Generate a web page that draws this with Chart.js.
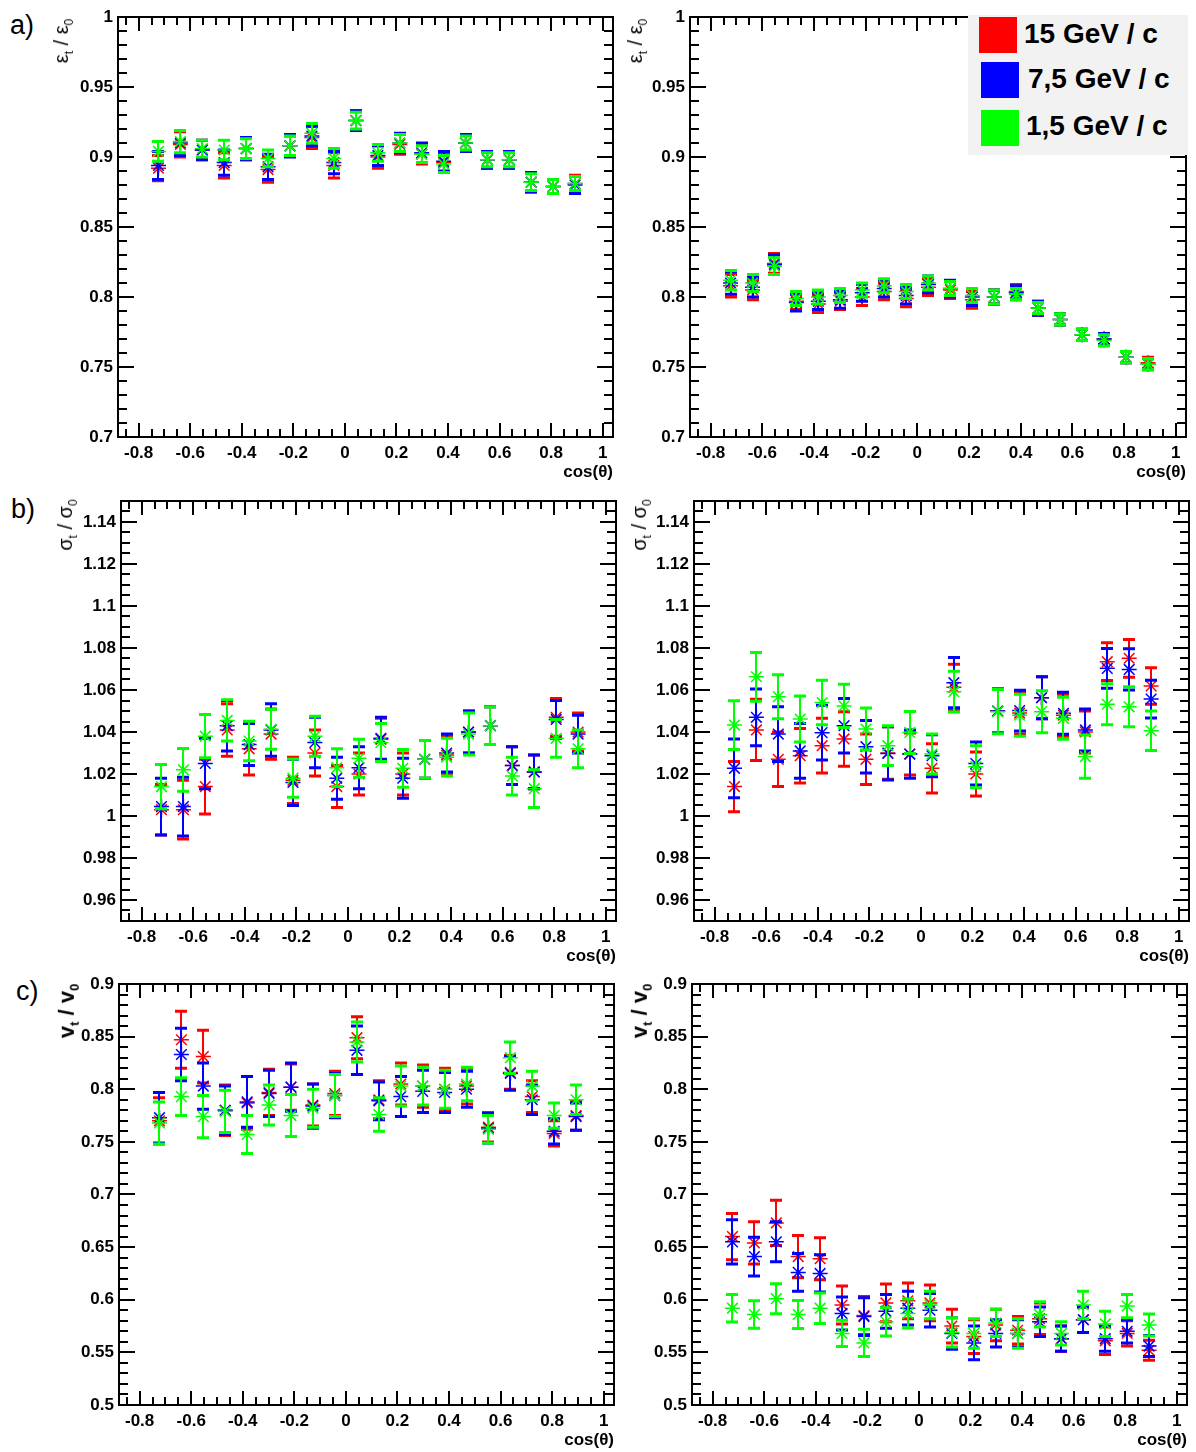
<!DOCTYPE html>
<html>
<head>
<meta charset="utf-8">
<script src="https://cdn.jsdelivr.net/npm/chart.js@4/dist/chart.umd.min.js"></script>
<style>
  body { margin: 0; background: #fff; width: 1196px; height: 1452px; position: relative; overflow: hidden;
         font-family: "Liberation Sans", Arial, sans-serif; }
  canvas { position: absolute; }
  .row { position: absolute; font-size: 27px; color: #000; }
  .ytitle { position: absolute; font-size: 20px; color: #000; white-space: nowrap;
            transform: translate(-50%, -50%) rotate(-90deg); }
  .ytitle sub { font-size: 12px; }
  .ytitle.bold { font-weight: bold; font-size: 22px; }
  .ytitle.bold sub { font-size: 13px; }
  .legend { position: absolute; left: 968px; top: 15px; width: 220px; height: 140px; background: #f2f2f2; z-index: 5; }
  .legend div { position: absolute; font-weight: bold; font-size: 28px; color: #000; white-space: nowrap; }
  .legend span { position: absolute; width: 38px; height: 36px; }
</style>
</head>
<body>

<script>
// cos(theta) bin centres shared by every panel
const cosTheta = [-0.723, -0.638, -0.553, -0.468, -0.383, -0.298, -0.213, -0.128, -0.043, 0.043,
                  0.128, 0.213, 0.298, 0.383, 0.468, 0.553, 0.638, 0.723, 0.808, 0.893];

const xTicks = [-0.8, -0.6, -0.4, -0.2, 0, 0.2, 0.4, 0.6, 0.8, 1];
const xTickLabels = ['-0.8', '-0.6', '-0.4', '-0.2', '0', '0.2', '0.4', '0.6', '0.8', '1'];

const effTicks = [0.7, 0.75, 0.8, 0.85, 0.9, 0.95, 1];
const effTickLabels = ['0.7', '0.75', '0.8', '0.85', '0.9', '0.95', '1'];
const resTicks = [0.96, 0.98, 1, 1.02, 1.04, 1.06, 1.08, 1.1, 1.12, 1.14];
const resTickLabels = ['0.96', '0.98', '1', '1.02', '1.04', '1.06', '1.08', '1.1', '1.12', '1.14'];
const velTicks = [0.5, 0.55, 0.6, 0.65, 0.7, 0.75, 0.8, 0.85, 0.9];
const velTickLabels = ['0.5', '0.55', '0.6', '0.65', '0.7', '0.75', '0.8', '0.85', '0.9'];

// a) eps_t / eps_0, left
const effLeftHi = [0.892, 0.909, 0.905, 0.894, 0.906, 0.891, 0.908, 0.914, 0.894, 0.926, 0.900, 0.909, 0.902, 0.896, 0.910, 0.898, 0.898, 0.882, 0.879, 0.881];
const effLeftHiErr = [0.009, 0.009, 0.007, 0.009, 0.008, 0.009, 0.007, 0.008, 0.009, 0.007, 0.008, 0.007, 0.007, 0.007, 0.006, 0.006, 0.006, 0.007, 0.005, 0.006];
const effLeftMid = [0.894, 0.910, 0.905, 0.896, 0.906, 0.893, 0.908, 0.915, 0.896, 0.926, 0.901, 0.910, 0.903, 0.897, 0.910, 0.898, 0.898, 0.882, 0.879, 0.880];
const effLeftMidErr = [0.010, 0.009, 0.007, 0.009, 0.008, 0.009, 0.008, 0.007, 0.008, 0.007, 0.007, 0.007, 0.007, 0.007, 0.006, 0.006, 0.006, 0.007, 0.005, 0.006];
const effLeftLo = [0.904, 0.911, 0.906, 0.905, 0.906, 0.899, 0.908, 0.917, 0.899, 0.926, 0.903, 0.910, 0.902, 0.895, 0.910, 0.898, 0.898, 0.882, 0.879, 0.881];
const effLeftLoErr = [0.007, 0.008, 0.006, 0.007, 0.007, 0.006, 0.007, 0.007, 0.007, 0.006, 0.006, 0.006, 0.006, 0.006, 0.005, 0.005, 0.005, 0.006, 0.005, 0.005];

// a) eps_t / eps_0, right
const effRightHi = [0.808, 0.805, 0.824, 0.797, 0.795, 0.797, 0.800, 0.804, 0.799, 0.807, 0.805, 0.798, 0.800, 0.804, 0.792, 0.784, 0.773, 0.770, 0.757, 0.753];
const effRightHiErr = [0.008, 0.007, 0.007, 0.006, 0.006, 0.006, 0.006, 0.006, 0.006, 0.006, 0.006, 0.006, 0.005, 0.005, 0.005, 0.004, 0.004, 0.004, 0.004, 0.004];
const effRightMid = [0.810, 0.807, 0.823, 0.796, 0.797, 0.798, 0.803, 0.806, 0.801, 0.809, 0.806, 0.800, 0.800, 0.803, 0.792, 0.784, 0.773, 0.770, 0.757, 0.752];
const effRightMidErr = [0.008, 0.007, 0.007, 0.006, 0.006, 0.006, 0.006, 0.006, 0.006, 0.006, 0.006, 0.006, 0.005, 0.005, 0.005, 0.004, 0.004, 0.004, 0.004, 0.004];
const effRightLo = [0.812, 0.810, 0.822, 0.799, 0.800, 0.801, 0.805, 0.808, 0.804, 0.810, 0.806, 0.801, 0.800, 0.802, 0.792, 0.784, 0.773, 0.769, 0.757, 0.752];
const effRightLoErr = [0.007, 0.006, 0.006, 0.005, 0.005, 0.005, 0.005, 0.005, 0.005, 0.005, 0.005, 0.005, 0.005, 0.004, 0.004, 0.004, 0.004, 0.004, 0.004, 0.004];

// b) sigma_t / sigma_0, left
const resLeftHi = [1.003, 1.003, 1.014, 1.041, 1.032, 1.039, 1.017, 1.030, 1.014, 1.020, 1.0365, 1.020, 1.027, 1.029, 1.040, 1.043, 1.024, 1.021, 1.047, 1.040];
const resLeftHiErr = [0.012, 0.014, 0.013, 0.0125, 0.0125, 0.012, 0.011, 0.011, 0.010, 0.010, 0.010, 0.010, 0.009, 0.009, 0.010, 0.009, 0.009, 0.008, 0.009, 0.009];
const resLeftMid = [1.0045, 1.0045, 1.025, 1.043, 1.034, 1.041, 1.016, 1.035, 1.018, 1.023, 1.037, 1.018, 1.027, 1.030, 1.040, 1.043, 1.024, 1.021, 1.046, 1.039];
const resLeftMidErr = [0.0135, 0.014, 0.012, 0.012, 0.010, 0.0125, 0.011, 0.012, 0.010, 0.010, 0.010, 0.0095, 0.009, 0.009, 0.010, 0.009, 0.009, 0.008, 0.009, 0.009];
const resLeftLo = [1.014, 1.022, 1.038, 1.0455, 1.0357, 1.0413, 1.018, 1.038, 1.023, 1.0275, 1.035, 1.0227, 1.027, 1.028, 1.039, 1.043, 1.019, 1.013, 1.037, 1.032];
const resLeftLoErr = [0.0105, 0.0102, 0.0103, 0.0098, 0.0094, 0.0095, 0.0091, 0.0095, 0.009, 0.009, 0.009, 0.009, 0.009, 0.009, 0.010, 0.009, 0.009, 0.009, 0.009, 0.009];

// b) sigma_t / sigma_0, right
const resRightHi = [1.014, 1.041, 1.027, 1.0287, 1.0335, 1.0367, 1.027, 1.030, 1.0295, 1.0227, 1.0613, 1.020, 1.050, 1.049, 1.0563, 1.048, 1.040, 1.0735, 1.0751, 1.0619];
const resRightHiErr = [0.012, 0.0146, 0.013, 0.013, 0.013, 0.013, 0.012, 0.0125, 0.010, 0.0117, 0.011, 0.0105, 0.0105, 0.010, 0.010, 0.010, 0.010, 0.009, 0.009, 0.0087];
const resRightMid = [1.0227, 1.047, 1.039, 1.031, 1.0397, 1.043, 1.033, 1.0298, 1.0295, 1.0287, 1.0635, 1.025, 1.050, 1.0502, 1.0563, 1.0489, 1.041, 1.0703, 1.0698, 1.0557];
const resRightMidErr = [0.014, 0.0135, 0.013, 0.013, 0.013, 0.013, 0.0125, 0.0127, 0.0115, 0.010, 0.012, 0.0102, 0.0105, 0.0097, 0.010, 0.010, 0.010, 0.0095, 0.0098, 0.009];
const resRightLo = [1.0433, 1.0663, 1.0568, 1.0462, 1.054, 1.0524, 1.0414, 1.0335, 1.0398, 1.0295, 1.0592, 1.0235, 1.0497, 1.048, 1.0497, 1.0465, 1.0283, 1.0532, 1.052, 1.0406];
const resRightLoErr = [0.0116, 0.0116, 0.0105, 0.011, 0.0106, 0.0103, 0.010, 0.0095, 0.010, 0.0095, 0.0097, 0.010, 0.0105, 0.010, 0.010, 0.010, 0.0103, 0.0098, 0.0095, 0.0094];

// c) v_t / v_0, left
const velLeftHi = [0.770, 0.847, 0.831, 0.780, 0.787, 0.797, 0.802, 0.785, 0.796, 0.849, 0.790, 0.805, 0.803, 0.800, 0.803, 0.764, 0.816, 0.793, 0.758, 0.775];
const velLeftHiErr = [0.022, 0.027, 0.025, 0.024, 0.025, 0.022, 0.022, 0.020, 0.021, 0.020, 0.018, 0.020, 0.020, 0.020, 0.017, 0.014, 0.016, 0.015, 0.012, 0.014];
const velLeftMid = [0.773, 0.833, 0.803, 0.780, 0.788, 0.796, 0.802, 0.784, 0.794, 0.837, 0.789, 0.793, 0.798, 0.797, 0.800, 0.763, 0.815, 0.790, 0.760, 0.774];
const velLeftMidErr = [0.024, 0.025, 0.022, 0.023, 0.024, 0.022, 0.023, 0.021, 0.021, 0.023, 0.018, 0.019, 0.020, 0.019, 0.017, 0.014, 0.016, 0.014, 0.012, 0.013];
const velLeftLo = [0.768, 0.793, 0.774, 0.779, 0.757, 0.785, 0.775, 0.782, 0.794, 0.845, 0.776, 0.803, 0.803, 0.800, 0.805, 0.762, 0.830, 0.803, 0.775, 0.790];
const velLeftLoErr = [0.020, 0.018, 0.020, 0.020, 0.018, 0.019, 0.020, 0.018, 0.020, 0.019, 0.016, 0.019, 0.018, 0.018, 0.016, 0.013, 0.015, 0.014, 0.012, 0.014];

// c) v_t / v_0, right
const velRightHi = [0.660, 0.654, 0.673, 0.641, 0.639, 0.595, 0.585, 0.597, 0.599, 0.597, 0.575, 0.565, 0.576, 0.571, 0.582, 0.563, 0.581, 0.561, 0.568, 0.552];
const velRightHiErr = [0.022, 0.020, 0.0215, 0.020, 0.020, 0.018, 0.018, 0.018, 0.017, 0.017, 0.016, 0.016, 0.015, 0.013, 0.015, 0.012, 0.012, 0.013, 0.012, 0.0095];
const velRightMid = [0.655, 0.641, 0.655, 0.626, 0.625, 0.587, 0.584, 0.589, 0.592, 0.590, 0.568, 0.559, 0.568, 0.568, 0.579, 0.563, 0.581, 0.563, 0.570, 0.556];
const velRightMidErr = [0.021, 0.0185, 0.019, 0.018, 0.0177, 0.0157, 0.018, 0.016, 0.016, 0.016, 0.015, 0.016, 0.013, 0.013, 0.014, 0.012, 0.012, 0.012, 0.011, 0.010];
const velRightLo = [0.592, 0.586, 0.601, 0.586, 0.592, 0.568, 0.559, 0.579, 0.587, 0.595, 0.569, 0.568, 0.578, 0.568, 0.586, 0.568, 0.595, 0.577, 0.594, 0.576];
const velRightLoErr = [0.0131, 0.013, 0.0142, 0.0134, 0.0145, 0.0125, 0.013, 0.0135, 0.0138, 0.013, 0.014, 0.014, 0.013, 0.014, 0.012, 0.011, 0.013, 0.012, 0.011, 0.0105];

const seriesNames = ['15 GeV / c', '7,5 GeV / c', '1,5 GeV / c'];
const seriesColors = ['#ff0000', '#0000ff', '#00ff00'];

// plot frames on the page
const PAD_T = 17, PAD_R = 20, Y_AXIS_W = 70, X_AXIS_H = 46;
const panels = [
  { left: 118, top: 17,  w: 495, h: 420, y: [0.7, 1.0],   minor: 0.01,  per: 5, ticks: effTicks, labels: effTickLabels,
    series: [[effLeftHi, effLeftHiErr], [effLeftMid, effLeftMidErr], [effLeftLo, effLeftLoErr]] },
  { left: 690, top: 17,  w: 496, h: 420, y: [0.7, 1.0],   minor: 0.01,  per: 5, ticks: effTicks, labels: effTickLabels,
    series: [[effRightHi, effRightHiErr], [effRightMid, effRightMidErr], [effRightLo, effRightLoErr]] },
  { left: 121, top: 501, w: 495, h: 420, y: [0.95, 1.15], minor: 0.005, per: 4, ticks: resTicks, labels: resTickLabels,
    series: [[resLeftHi, resLeftHiErr], [resLeftMid, resLeftMidErr], [resLeftLo, resLeftLoErr]] },
  { left: 694, top: 501, w: 495, h: 420, y: [0.95, 1.15], minor: 0.005, per: 4, ticks: resTicks, labels: resTickLabels,
    series: [[resRightHi, resRightHiErr], [resRightMid, resRightMidErr], [resRightLo, resRightLoErr]] },
  { left: 119, top: 984, w: 495, h: 421, y: [0.5, 0.9],   minor: 0.01,  per: 5, ticks: velTicks, labels: velTickLabels,
    series: [[velLeftHi, velLeftHiErr], [velLeftMid, velLeftMidErr], [velLeftLo, velLeftLoErr]] },
  { left: 692, top: 984, w: 495, h: 421, y: [0.5, 0.9],   minor: 0.01,  per: 5, ticks: velTicks, labels: velTickLabels,
    series: [[velRightHi, velRightHiErr], [velRightMid, velRightMidErr], [velRightLo, velRightLoErr]] }
];

// vertical error bars with caps, drawn just before each series' markers
const errorBars = {
  id: 'errorBars',
  beforeDatasetDraw(chart, args) {
    const ds = chart.data.datasets[args.index];
    const { x, y } = chart.scales;
    const ctx = chart.ctx;
    ctx.save();
    ctx.strokeStyle = ds.borderColor;
    ds.data.forEach(p => {
      const px = Math.round(x.getPixelForValue(p.x));
      const top = y.getPixelForValue(p.y + p.err);
      const bot = y.getPixelForValue(p.y - p.err);
      ctx.lineWidth = 2;
      ctx.beginPath();
      ctx.moveTo(px, top); ctx.lineTo(px, bot);
      ctx.stroke();
      ctx.lineWidth = 3;
      ctx.beginPath();
      ctx.moveTo(px - 6, top); ctx.lineTo(px + 6, top);
      ctx.moveTo(px - 6, bot); ctx.lineTo(px + 6, bot);
      ctx.stroke();
    });
    ctx.restore();
  }
};

// box around the plot with inward ticks on all four sides
const frameTicks = {
  id: 'frameTicks',
  afterDraw(chart, args, opts) {
    const { ctx, chartArea: a } = chart;
    const { x, y } = chart.scales;
    ctx.save();
    ctx.strokeStyle = '#000';
    ctx.lineWidth = 2;
    ctx.strokeRect(a.left, a.top, a.right - a.left, a.bottom - a.top);
    ctx.beginPath();
    for (let k = -17; k <= 20; k++) {
      const px = Math.round(x.getPixelForValue(k * 0.05));
      const len = k % 4 === 0 ? 14 : 8;
      ctx.moveTo(px, a.bottom); ctx.lineTo(px, a.bottom - len);
      ctx.moveTo(px, a.top); ctx.lineTo(px, a.top + len);
    }
    const k0 = Math.ceil(opts.min / opts.minor - 1e-6), k1 = Math.floor(opts.max / opts.minor + 1e-6);
    for (let k = k0; k <= k1; k++) {
      const py = Math.round(y.getPixelForValue(k * opts.minor));
      const len = k % opts.per === 0 ? 16 : 9;
      ctx.moveTo(a.left, py); ctx.lineTo(a.left + len, py);
      ctx.moveTo(a.right, py); ctx.lineTo(a.right - len, py);
    }
    ctx.stroke();
    ctx.restore();
  }
};

const tickFont = { family: '"Liberation Sans", Arial, sans-serif', size: 17, weight: 'bold' };

panels.forEach(p => {
  const cv = document.createElement('canvas');
  const cw = p.w + Y_AXIS_W + PAD_R, ch = p.h + PAD_T + X_AXIS_H;
  cv.width = cw; cv.height = ch;
  cv.style.left = (p.left - Y_AXIS_W) + 'px';
  cv.style.top = (p.top - PAD_T) + 'px';
  document.body.appendChild(cv);

  const datasets = p.series.map((s, i) => ({
    label: seriesNames[i],
    data: cosTheta.map((c, j) => ({ x: c, y: s[0][j], err: s[1][j] })),
    borderColor: seriesColors[i],
    backgroundColor: seriesColors[i],
    pointStyle: 'star',
    pointRadius: 7.5,
    pointBorderWidth: 1.5,
    showLine: false,
    order: 3 - i
  }));

  new Chart(cv, {
    type: 'scatter',
    data: { datasets },
    options: {
      responsive: false,
      animation: false,
      devicePixelRatio: 1,
      layout: { padding: { left: 0, top: PAD_T, right: PAD_R, bottom: 0 } },
      plugins: {
        legend: { display: false },
        tooltip: { enabled: false },
        frameTicks: { min: p.y[0], max: p.y[1], minor: p.minor, per: p.per }
      },
      scales: {
        x: {
          type: 'linear', min: -0.88, max: 1.04,
          grid: { display: false, drawTicks: false },
          border: { display: false },
          afterBuildTicks: s => { s.ticks = xTicks.map(v => ({ value: v })); },
          afterFit: s => { s.height = X_AXIS_H; },
          ticks: { font: tickFont, color: '#000', padding: 6, maxRotation: 0, autoSkip: false,
                   callback: (v, i) => xTickLabels[i] },
          title: { display: true, text: 'cos(θ)', align: 'end', color: '#000', font: tickFont, padding: 0 }
        },
        y: {
          type: 'linear', min: p.y[0], max: p.y[1],
          grid: { display: false, drawTicks: false },
          border: { display: false },
          afterBuildTicks: s => { s.ticks = p.ticks.map(v => ({ value: v })); },
          afterFit: s => { s.width = Y_AXIS_W; },
          ticks: { font: tickFont, color: '#000', padding: 5, autoSkip: false,
                   callback: (v, i) => p.labels[i] }
        }
      }
    },
    plugins: [errorBars, frameTicks]
  });
});
</script>

<div class="row" style="left:10px; top:10px;">a)</div>
<div class="row" style="left:11px; top:494px;">b)</div>
<div class="row" style="left:16px; top:976px;">c)</div>

<div class="ytitle" style="left:63px; top:41px;">ε<sub>t</sub> / ε<sub>0</sub></div>
<div class="ytitle" style="left:637px; top:41px;">ε<sub>t</sub> / ε<sub>0</sub></div>
<div class="ytitle" style="left:67px; top:525px;">σ<sub>t</sub> / σ<sub>0</sub></div>
<div class="ytitle" style="left:641px; top:525px;">σ<sub>t</sub> / σ<sub>0</sub></div>
<div class="ytitle bold" style="left:68px; top:1011px;">v<sub>t</sub> / v<sub>0</sub></div>
<div class="ytitle bold" style="left:641px; top:1011px;">v<sub>t</sub> / v<sub>0</sub></div>

<div class="legend">
  <span style="left:11px; top:2px; background:#ff0000;"></span>
  <div style="left:56px; top:3px;">15 GeV / c</div>
  <span style="left:13px; top:47px; background:#0000ff;"></span>
  <div style="left:60px; top:48px;">7,5 GeV / c</div>
  <span style="left:13px; top:95px; background:#00ff00;"></span>
  <div style="left:58px; top:95px;">1,5 GeV / c</div>
</div>
</body>
</html>
